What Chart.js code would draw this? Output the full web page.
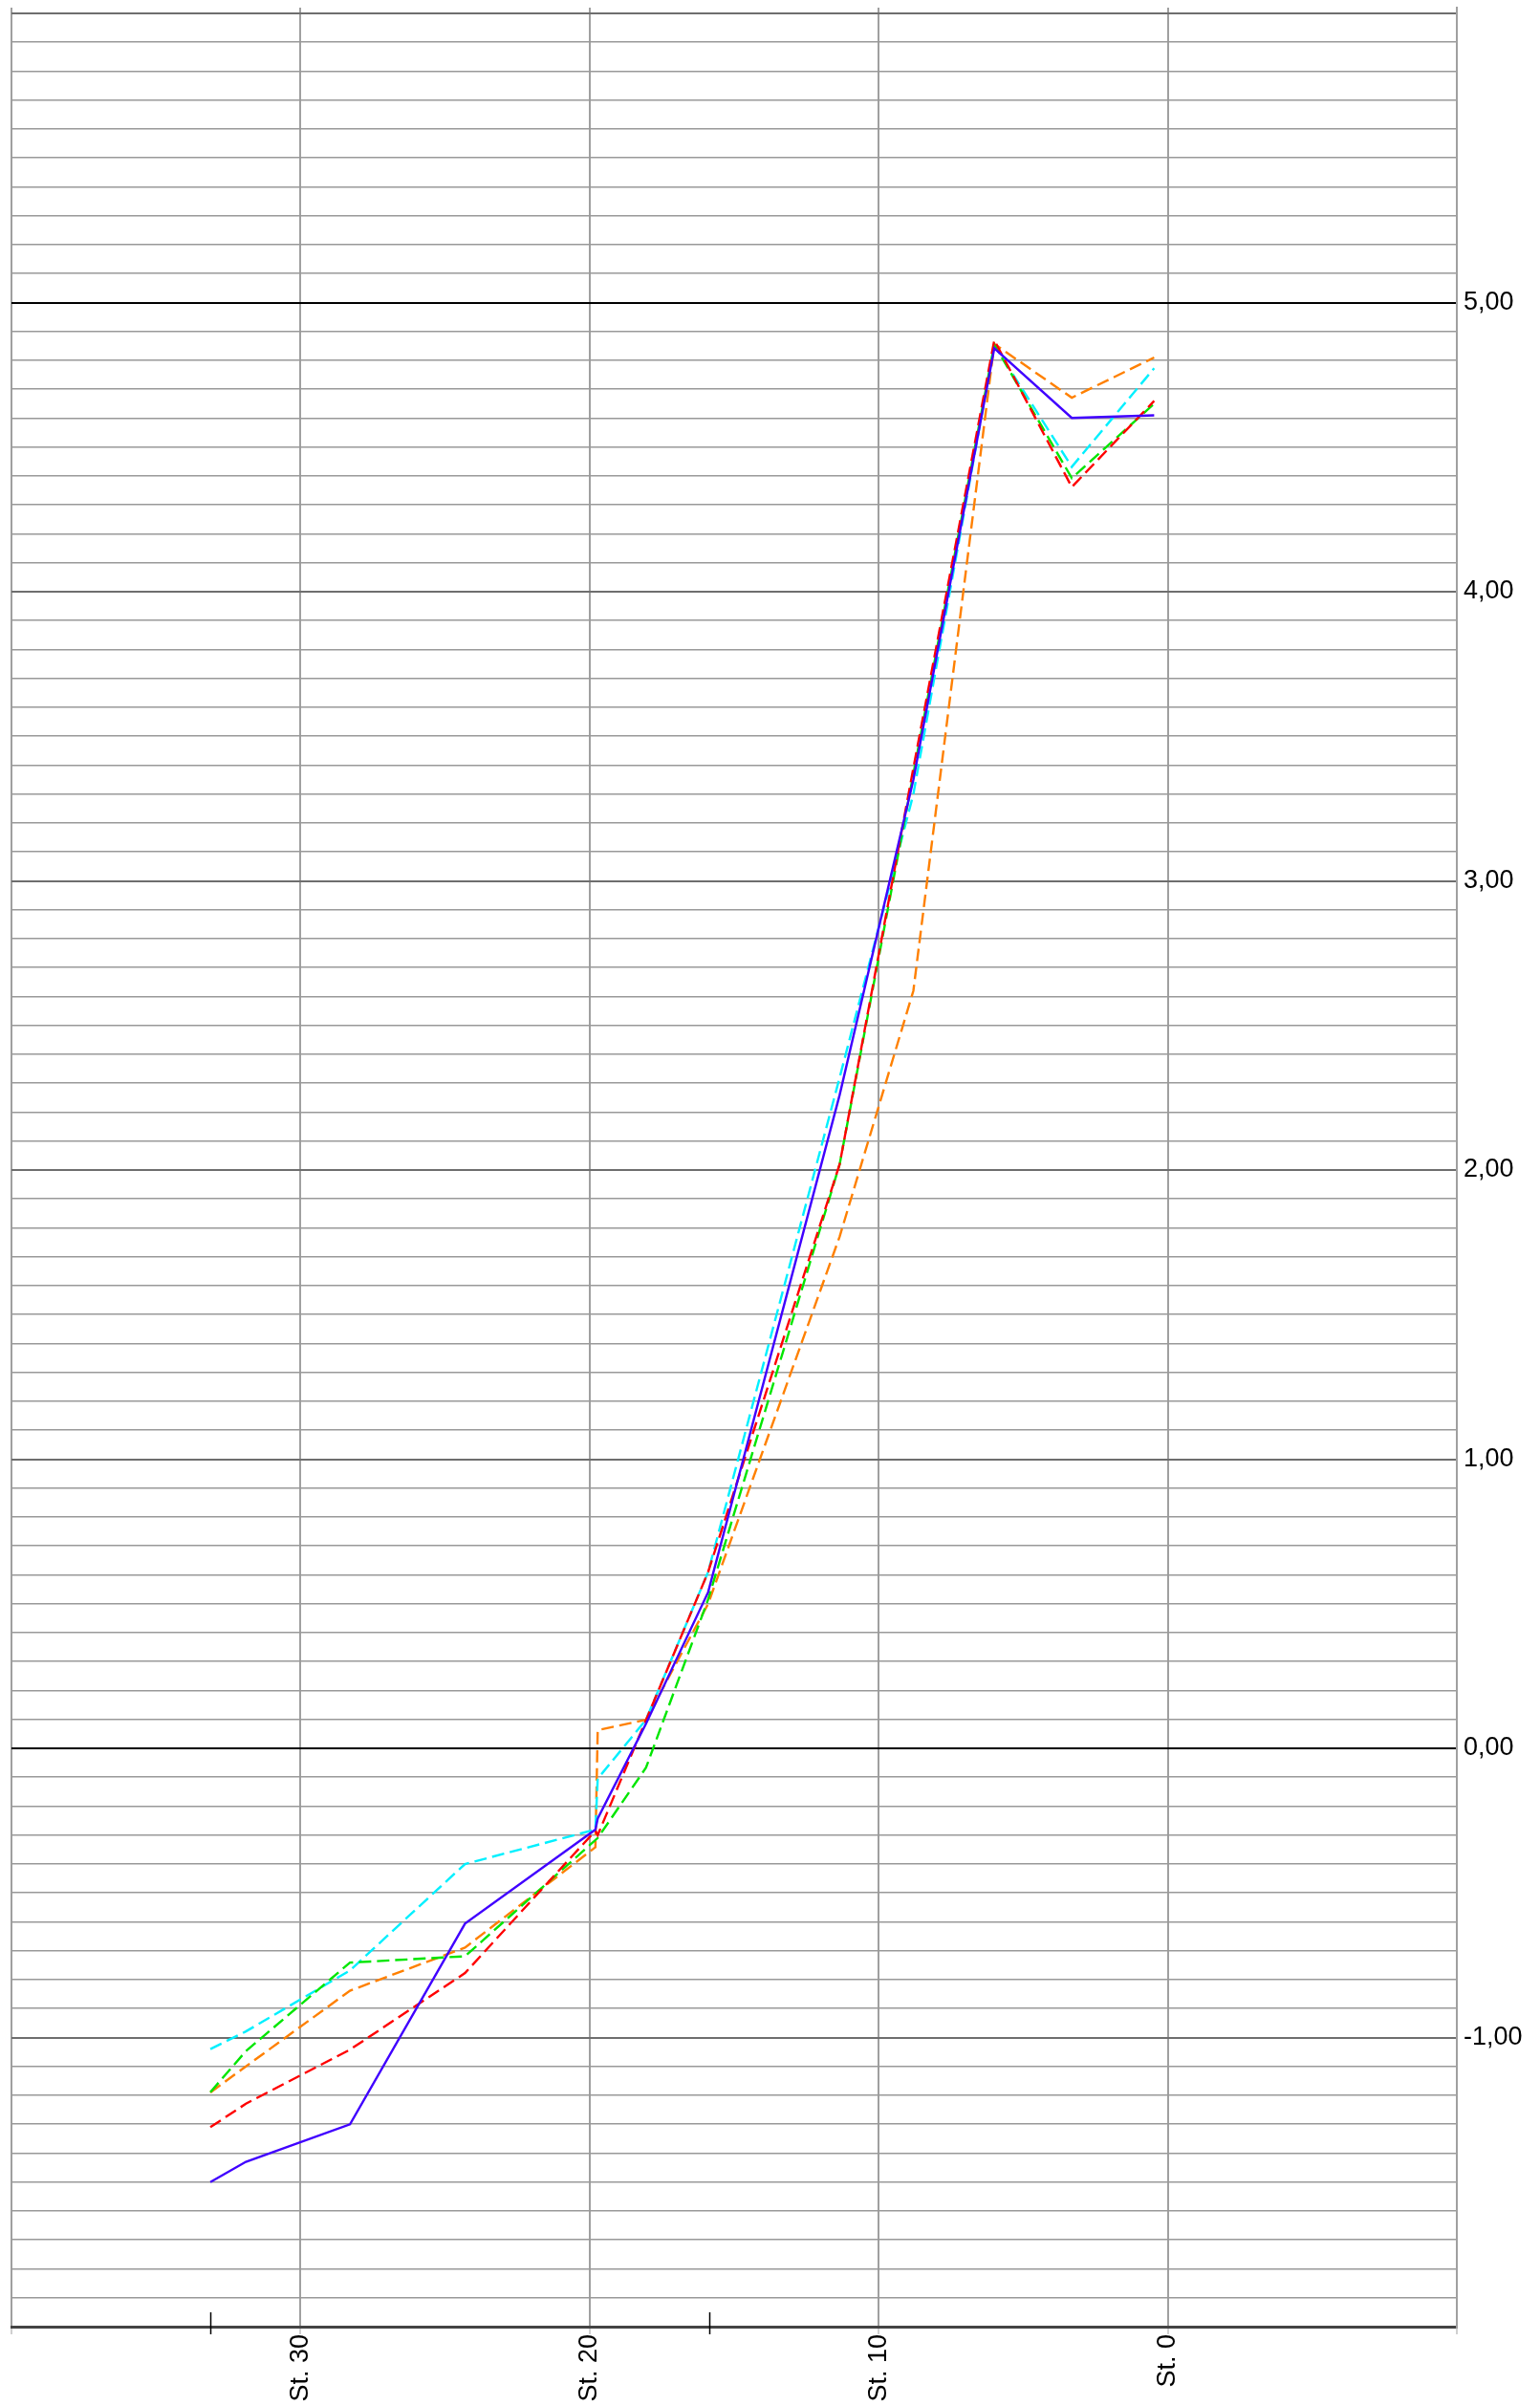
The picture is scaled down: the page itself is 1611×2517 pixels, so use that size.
<!DOCTYPE html>
<html lang="de">
<head>
<meta charset="utf-8">
<title>Längsschnitt</title>
<script src="https://cdn.jsdelivr.net/npm/chart.js@4/dist/chart.umd.min.js"></script>
<style>
    html, body { margin: 0; padding: 0; background: #ffffff; }
    #wrap { width: 1611px; height: 2517px; }
</style>
</head>
<body>
<div id="wrap"><canvas id="profileChart" width="1611" height="2517"></canvas></div>
<script>
/* ========================================
   LÄNGSSCHNITT - DATEN
======================================== */

// Stationen (x) der Messpunkte
const stations = [33.12, 31.89, 28.29, 24.31, 19.80, 19.72, 18.05, 15.90, 11.35, 8.80, 6.00, 3.32, 0.47];

// Messreihen (null = kein Punkt an dieser Station)
const serieBlau   = [-1.50, -1.43, -1.30, -0.606, -0.281, -0.243, 0.085, 0.54, 2.26, 3.35, 4.842, 4.601, 4.61];
const serieRot    = [-1.31, -1.229, -1.042, -0.777, -0.285, -0.30, null, 0.61, 2.02, 3.39, 4.87, 4.362, 4.66];
const serieGruen  = [-1.189, -1.047, -0.741, -0.719, null, -0.31, -0.067, 0.515, 2.02, 3.37, 4.855, 4.393, 4.65];
const serieCyan   = [-1.04, -0.979, -0.768, -0.40, -0.281, -0.105, 0.099, 0.61, 2.32, 3.30, 4.853, 4.432, 4.773];
const serieOrange = [-1.19, -1.10, -0.838, -0.689, -0.342, 0.063, 0.099, 0.50, 1.77, 2.62, 4.857, 4.671, 4.81];

// Achsen
const xTickStations = [40, 30, 20, 10, 0, -10];
const xLabelStations = [30, 20, 10, 0];
const yLabelValues = [-1, 0, 1, 2, 3, 4, 5];
const yMin = -2;
const yMax = 6;
const markerStations = [33.12, 15.87];

let profileChart = null;

document.addEventListener('DOMContentLoaded', function() {
    initializeChart();
});

// ========================================
// HILFSFUNKTIONEN
// ========================================

function toPoints(values) {
    return stations.map((s, i) => ({ x: s, y: values[i] }));
}

function formatComma(v) {
    return v.toFixed(2).replace('.', ',');
}

function tenths(v) {
    return Math.round(v * 10);
}

// Rasterfarbe je nach Höhe
function yGridColor(ctx) {
    const t = tenths(ctx.tick.value);
    if (t === 0 || t === 50) return '#000000';
    if (t === -20) return '#444444';
    if (t % 10 === 0) return '#6e6e6e';
    return '#999999';
}

function yGridWidth(ctx) {
    const t = tenths(ctx.tick.value);
    if (t === -20) return 3;
    if (t % 10 === 0) return 2;
    return 1.6;
}

// Kurze Markierungen an der Stationsachse
const markerPlugin = {
    id: 'stationMarker',
    afterDraw(chart) {
        const xs = chart.scales.x;
        const ctx = chart.ctx;
        const yb = chart.chartArea.bottom;
        ctx.save();
        ctx.strokeStyle = '#000000';
        ctx.lineWidth = 1.5;
        markerStations.forEach(s => {
            const px = Math.round(xs.getPixelForValue(s)) + 0.5;
            ctx.beginPath();
            ctx.moveTo(px, yb - 15);
            ctx.lineTo(px, yb + 8);
            ctx.stroke();
        });
        ctx.restore();
    }
};

function makeSet(label, values, color, dashed) {
    return {
        label: label,
        data: toPoints(values),
        borderColor: color,
        borderWidth: 2.4,
        borderDash: dashed ? [13, 6] : [],
        pointRadius: 0,
        tension: 0,
        fill: false,
        spanGaps: true
    };
}

// ========================================
// DIAGRAMM
// ========================================

function initializeChart() {
    const ctx = document.getElementById('profileChart');
    if (!ctx) return;

    Chart.defaults.font.family = '"Liberation Sans", Arial, sans-serif';
    Chart.defaults.color = '#000000';

    profileChart = new Chart(ctx, {
        type: 'line',
        data: {
            datasets: [
                makeSet('Blau', serieBlau, '#4000ff', false),
                makeSet('Rot', serieRot, '#ff0000', true),
                makeSet('Grün', serieGruen, '#00e600', true),
                makeSet('Cyan', serieCyan, '#00f0ff', true),
                makeSet('Orange', serieOrange, '#ff8000', true)
            ]
        },
        options: {
            responsive: false,
            devicePixelRatio: 1,
            animation: false,
            layout: {
                padding: { left: 12, top: 8, right: 0, bottom: 0 }
            },
            plugins: {
                legend: { display: false },
                tooltip: { enabled: false }
            },
            scales: {
                x: {
                    type: 'linear',
                    position: 'bottom',
                    min: -10,
                    max: 40,
                    reverse: true,
                    afterBuildTicks: function(scale) {
                        scale.ticks = xTickStations.map(v => ({ value: v }));
                    },
                    afterFit: function(scale) {
                        scale.height = 83;
                        scale.paddingLeft = 0;
                        scale.paddingRight = 0;
                    },
                    grid: {
                        color: '#a0a0a0',
                        lineWidth: 2,
                        drawTicks: true,
                        tickLength: 8,
                        tickColor: '#a0a0a0',
                        tickWidth: 1
                    },
                    border: {
                        display: true,
                        color: '#444444',
                        width: 3
                    },
                    ticks: {
                        autoSkip: false,
                        minRotation: 90,
                        maxRotation: 90,
                        padding: 0,
                        font: { size: 27 },
                        callback: function(value) {
                            return xLabelStations.includes(value) ? 'St. ' + value : '';
                        }
                    }
                },
                y: {
                    type: 'linear',
                    position: 'right',
                    min: yMin,
                    max: yMax + 0.02,
                    afterBuildTicks: function(scale) {
                        const list = [];
                        for (let t = yMin * 10; t <= yMax * 10; t++) {
                            list.push({ value: t / 10 });
                        }
                        scale.ticks = list;
                    },
                    afterFit: function(scale) {
                        scale.width = 87;
                        scale.paddingTop = 0;
                        scale.paddingBottom = 0;
                    },
                    grid: {
                        color: yGridColor,
                        lineWidth: yGridWidth,
                        drawTicks: false
                    },
                    border: {
                        display: true,
                        color: '#a0a0a0',
                        width: 2
                    },
                    ticks: {
                        autoSkip: false,
                        padding: 7,
                        font: { size: 27 },
                        callback: function(value) {
                            const v = Math.round(value * 10) / 10;
                            return yLabelValues.includes(v) ? formatComma(v) : '';
                        }
                    }
                }
            }
        },
        plugins: [markerPlugin]
    });
}
</script>
</body>
</html>
